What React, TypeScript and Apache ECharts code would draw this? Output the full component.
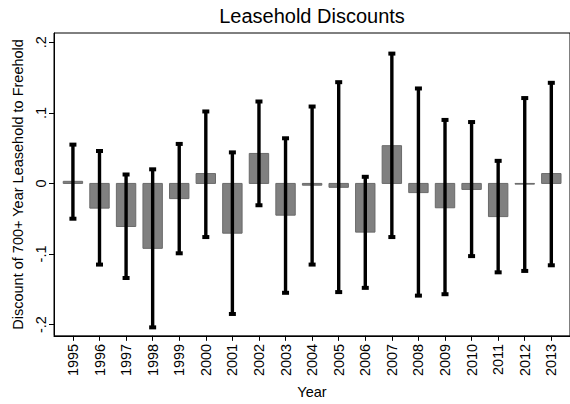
import React, { useEffect, useRef } from "react";
import * as echarts from "echarts";

// Estimated leasehold discount by year, with 95% confidence bounds
const years = [1995, 1996, 1997, 1998, 1999, 2000, 2001, 2002, 2003, 2004, 2005, 2006, 2007, 2008, 2009, 2010, 2011, 2012, 2013];
const discount = [0.003, -0.035, -0.061, -0.092, -0.0215, 0.014, -0.0705, 0.0425, -0.045, -0.0025, -0.0055, -0.069, 0.0535, -0.013, -0.0345, -0.0085, -0.047, -0.001, 0.014];
const ciLow = [-0.05, -0.115, -0.134, -0.204, -0.099, -0.076, -0.185, -0.031, -0.155, -0.115, -0.154, -0.148, -0.076, -0.159, -0.157, -0.103, -0.126, -0.124, -0.116];
const ciHigh = [0.055, 0.046, 0.0126, 0.02, 0.056, 0.102, 0.044, 0.116, 0.064, 0.109, 0.1435, 0.0094, 0.184, 0.1346, 0.09, 0.087, 0.032, 0.121, 0.1426];

const yTicks = [-0.2, -0.1, 0, 0.1, 0.2];
const yTickLabels = ["-.2", "-.1", "0", ".1", ".2"];

const FONT = '"Liberation Sans", Arial, Helvetica, sans-serif';

export default function App() {
  const ref = useRef<HTMLDivElement>(null);

  useEffect(() => {
    if (!ref.current) return;
    const chart = echarts.init(ref.current, null, { renderer: "svg" });

    const barData = years.map((y, i) => [y, discount[i]]);
    const ciData = years.map((y, i) => [y, ciLow[i], ciHigh[i]]);

    chart.setOption({
      animation: false,
      backgroundColor: "#fff",
      title: {
        text: "Leasehold Discounts",
        left: 312,
        top: 6,
        padding: 0,
        textAlign: "center",
        textStyle: { fontSize: 20, fontWeight: "normal", fontFamily: FONT, color: "#000" },
      },
      grid: {
        left: 54,
        top: 33,
        width: 518,
        height: 306,
        show: true,
        borderColor: "#000",
        borderWidth: 1,
        backgroundColor: "transparent",
      },
      xAxis: {
        type: "value",
        min: 1994.288,
        max: 2013.703,
        name: "Year",
        nameLocation: "middle",
        nameGap: 48,
        nameTextStyle: { fontSize: 14.5, fontFamily: FONT, color: "#000" },
        splitLine: { show: false },
        axisLine: { show: true, onZero: false, lineStyle: { color: "#000", width: 1 } },
        axisTick: { show: true, length: 5, customValues: years, lineStyle: { color: "#000", width: 1 } },
        axisLabel: {
          customValues: years,
          rotate: 90,
          margin: 8,
          fontSize: 14.5,
          fontFamily: FONT,
          color: "#000",
          formatter: (v: number) => String(Math.round(v)),
        },
      },
      yAxis: {
        type: "value",
        min: -0.216,
        max: 0.2132,
        name: "Discount of 700+ Year Leasehold to Freehold",
        nameLocation: "middle",
        nameRotate: 90,
        nameGap: 25,
        nameTextStyle: { fontSize: 14.5, fontFamily: FONT, color: "#000" },
        splitLine: { show: false },
        axisLine: { show: true, onZero: false, lineStyle: { color: "#000", width: 1 } },
        axisTick: { show: true, length: 5, customValues: yTicks, lineStyle: { color: "#000", width: 1 } },
        axisLabel: {
          customValues: yTicks,
          rotate: 90,
          margin: 6,
          fontSize: 14.5,
          fontFamily: FONT,
          color: "#000",
          formatter: (v: number) => {
            const i = yTicks.findIndex((t) => Math.abs(t - v) < 1e-9);
            return i >= 0 ? yTickLabels[i] : "";
          },
        },
      },
      series: [
        {
          type: "custom",
          name: "Discount",
          data: barData,
          encode: { x: 0, y: 1 },
          renderItem: (params: any, api: any) => {
            const x = api.value(0);
            const v = api.value(1);
            const base = api.coord([x, 0]);
            const top = api.coord([x, v]);
            const w = api.size([1, 0])[0] * 0.73;
            return {
              type: "rect",
              shape: {
                x: base[0] - w / 2,
                y: Math.min(base[1], top[1]),
                width: w,
                height: Math.abs(top[1] - base[1]),
              },
              style: { fill: "#808080", stroke: "#6a6a6a", lineWidth: 1 },
            };
          },
        },
        {
          type: "custom",
          name: "95% CI",
          data: ciData,
          encode: { x: 0, y: [1, 2] },
          z: 3,
          renderItem: (params: any, api: any) => {
            const x = api.value(0);
            const lo = api.coord([x, api.value(1)]);
            const hi = api.coord([x, api.value(2)]);
            const capW = 7;
            const capH = 4;
            return {
              type: "group",
              children: [
                {
                  type: "line",
                  shape: { x1: lo[0], y1: lo[1], x2: hi[0], y2: hi[1] },
                  style: { stroke: "#000", lineWidth: 3.4 },
                },
                {
                  type: "rect",
                  shape: { x: hi[0] - capW / 2, y: hi[1] - capH / 2, width: capW, height: capH },
                  style: { fill: "#000" },
                },
                {
                  type: "rect",
                  shape: { x: lo[0] - capW / 2, y: lo[1] - capH / 2, width: capW, height: capH },
                  style: { fill: "#000" },
                },
              ],
            };
          },
        },
      ],
    });

    return () => chart.dispose();
  }, []);

  return (
    <div
      ref={ref}
      style={{ position: "fixed", left: 0, top: 0, width: 570, height: 404, background: "#fff" }}
    />
  );
}
